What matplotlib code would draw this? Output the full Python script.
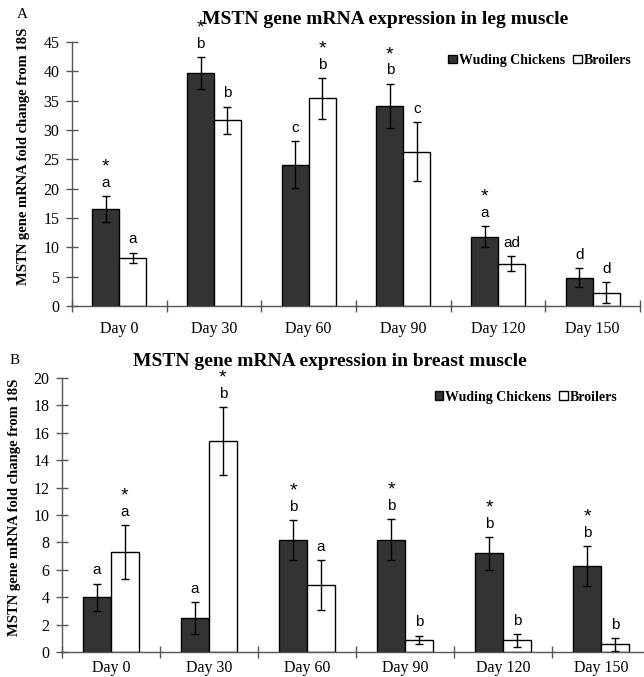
import numpy as np
import matplotlib
matplotlib.use("Agg")
import matplotlib.pyplot as plt
from matplotlib.patches import Patch

plt.rcParams.update({
    'font.family': 'Liberation Serif',
    'font.size': 10,
    'axes.linewidth': 1.0,
})

days = ['Day 0', 'Day 30', 'Day 60', 'Day 90', 'Day 120', 'Day 150']

# A: leg muscle
leg_wuding = [16.5, 39.7, 24.1, 34.1, 11.8, 4.8]
leg_wuding_err = [2.2, 2.7, 4.0, 3.8, 1.8, 1.6]
leg_broiler = [8.2, 31.7, 35.4, 26.3, 7.2, 2.3]
leg_broiler_err = [0.9, 2.3, 3.5, 5.0, 1.3, 1.8]
leg_wuding_letters = ['a', 'b', 'c', 'b', 'a', 'd']
leg_broiler_letters = ['a', 'b', 'b', 'c', 'ad', 'd']
leg_wuding_star = [True, True, False, True, True, False]
leg_broiler_star = [False, False, True, False, False, False]

# B: breast muscle
breast_wuding = [4.0, 2.5, 8.2, 8.2, 7.2, 6.3]
breast_wuding_err = [1.0, 1.15, 1.45, 1.5, 1.2, 1.45]
breast_broiler = [7.3, 15.4, 4.9, 0.9, 0.85, 0.55]
breast_broiler_err = [1.95, 2.5, 1.8, 0.3, 0.45, 0.45]
breast_wuding_letters = ['a', 'a', 'b', 'b', 'b', 'b']
breast_broiler_letters = ['a', 'b', 'a', 'b', 'b', 'b']
breast_wuding_star = [False, False, True, True, True, True]
breast_broiler_star = [True, True, False, False, False, False]

W, H = 644, 677
fig = plt.figure(figsize=(W / 100, H / 100), dpi=100)


def px_axes(left, right, top, bottom):
    return fig.add_axes([left / W, 1 - bottom / H, (right - left) / W, (bottom - top) / H])


def draw_panel(ax, wud, wud_err, bro, bro_err, wl, bl, ws, bs, ymax, ystep, leg_pos, xpad):
    x = np.arange(len(days))
    bw = 0.285
    ekw = dict(ecolor='black', elinewidth=1.0, capsize=3, capthick=1.0)
    ax.bar(x - bw / 2, wud, bw, yerr=wud_err, color='#333333', edgecolor='black',
           linewidth=1.0, error_kw=ekw, zorder=2)
    ax.bar(x + bw / 2, bro, bw, yerr=bro_err, color='white', edgecolor='black',
           linewidth=1.0, error_kw=ekw, zorder=2)

    for xs, vals, errs, letters, stars in [(x - bw / 2, wud, wud_err, wl, ws),
                                           (x + bw / 2, bro, bro_err, bl, bs)]:
        for xi, v, e, let, st in zip(xs, vals, errs, letters, stars):
            ax.annotate(let, xy=(xi, v + e), xytext=(0, 9.5), textcoords='offset points',
                        ha='center', va='center', family='Liberation Sans', fontsize=11,
                        annotation_clip=False)
            if st:
                ax.annotate('*', xy=(xi, v + e), xytext=(0, 21), textcoords='offset points',
                            ha='center', va='center', family='Liberation Sans', fontsize=14,
                            annotation_clip=False)

    ax.set_xlim(-0.5, len(days) - 0.5)
    ax.set_ylim(0, ymax)
    ax.set_yticks(np.arange(0, ymax + 0.1, ystep))
    ax.set_xticks(np.arange(-0.5, len(days)), labels=[''] * (len(days) + 1))
    ax.set_xticks(x, labels=days, minor=True)
    ax.tick_params(axis='x', which='major', direction='inout', length=8, width=1)
    ax.tick_params(axis='x', which='minor', length=0, pad=xpad, labelsize=11.5)
    ax.tick_params(axis='y', direction='inout', length=8, width=1, pad=5, labelsize=11.5)
    for s in ['top', 'right']:
        ax.spines[s].set_visible(False)
    ax.spines['bottom'].set_color('#555555')
    ax.spines['left'].set_color('#555555')
    ax.tick_params(colors='#555555', which='both', labelcolor='black')

    handles = [Patch(facecolor='#333333', edgecolor='black', label='Wuding Chickens'),
               Patch(facecolor='white', edgecolor='black', label='Broilers')]
    ax.legend(handles=handles, loc='center right', bbox_to_anchor=leg_pos, ncol=2,
              frameon=False, handlelength=0.6, handleheight=0.6, handletextpad=0.15,
              columnspacing=0.6, borderaxespad=0, borderpad=0,
              prop=dict(family='Liberation Serif', weight='bold', size=10))


axA = px_axes(72, 640, 42, 306)
draw_panel(axA, leg_wuding, leg_wuding_err, leg_broiler, leg_broiler_err,
           leg_wuding_letters, leg_broiler_letters, leg_wuding_star, leg_broiler_star,
           45, 5, (0.985, 0.93), 11)

axB = px_axes(62, 650, 378, 652)
draw_panel(axB, breast_wuding, breast_wuding_err, breast_broiler, breast_broiler_err,
           breast_wuding_letters, breast_broiler_letters, breast_wuding_star,
           breast_broiler_star, 20, 2, (0.945, 0.93), 6)

ylab = 'MSTN gene mRNA fold change from 18S'
fig.text(24 / W, 1 - 156 / H, ylab, rotation=90, ha='center', va='center',
         fontsize=10.5, fontweight='bold')
fig.text(15 / W, 1 - 507 / H, ylab, rotation=90, ha='center', va='center',
         fontsize=10.5, fontweight='bold')

fig.text(385 / W, 1 - 20 / H, 'MSTN gene mRNA expression in leg muscle',
         ha='center', va='center', fontsize=14, fontweight='bold')
fig.text(330 / W, 1 - 361 / H, 'MSTN gene mRNA expression in breast muscle',
         ha='center', va='center', fontsize=14, fontweight='bold')

fig.text(22 / W, 1 - 15 / H, 'A', ha='center', va='center', fontsize=11)
fig.text(15 / W, 1 - 360 / H, 'B', ha='center', va='center', fontsize=11)

fig.savefig('out.png', dpi=100, facecolor='white')
